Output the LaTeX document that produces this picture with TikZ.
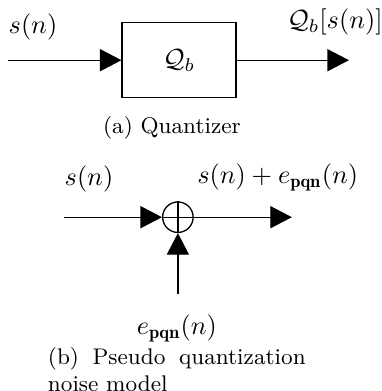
\documentclass[tikz,border=0pt]{standalone}
\usepackage{amsmath}
\usepackage{fontspec}
\usetikzlibrary{positioning,arrows.meta}
\tikzset{
  signal/.style={line width=0.5pt, draw=black},
  flow/.style={signal, -{Triangle[length=8.2pt,width=8.4pt]}},
  block/.style={draw=black, line width=0.5pt, minimum width=43.3pt,
    minimum height=28.5pt, inner sep=0pt},
  adder/.style={draw=black, line width=0.5pt, circle, minimum size=11.6pt,
    inner sep=0pt},
  sig/.style={inner sep=0pt},
  subcap/.style={inner sep=0pt, font=\fontsize{8.6}{10.3}\selectfont}
}

\begin{document}
\begin{tikzpicture}[node distance=40pt and 40pt]
  \useasboundingbox (-3.1pt,22.9pt) rectangle (141.8pt,-125.8pt);
  % (a) quantizer
  \coordinate[] (in);
  \node[block, right=43.1pt of in] (quant) {$\mathcal{Q}_b$};
  \coordinate[right=42.7pt of quant] (out);
  \node[sig, above right=7.3pt and 0pt of in] (inlbl) {$s(n)$};
  \node[sig, above=9.4pt of out, xshift=-5.3pt] (outlbl) {$\mathcal{Q}_b[s(n)]$};
  \draw[flow] (in) -- (quant);
  \draw[flow] (quant) -- (out);
  \node[subcap, below=6.6pt of quant, xshift=-2.7pt] (capa) {(a) Quantizer};
  % (b) pseudo quantization noise model
  \coordinate[below right=59.7pt and 21.3pt of in] (in2);
  \node[adder, right=37.2pt of in2] (sum) {};
  \coordinate[right=37.3pt of sum] (out2);
  \coordinate[below=23pt of sum] (noise);
  \draw[signal] (sum.north) -- (sum.south) (sum.west) -- (sum.east);
  \draw[flow] (in2) -- (sum);
  \draw[flow] (sum) -- (out2);
  \draw[flow] (noise) -- (sum);
  \node[sig, above right=9.3pt and 0pt of in2] (in2lbl) {$s(n)$};
  \node[sig, above=9.7pt of out2, xshift=-5.4pt] (out2lbl)
    {$s(n)+e_{\mathbf{pqn}}(n)$};
  \node[sig, below=7.8pt of noise, xshift=-0.4pt] (noiselbl)
    {$e_{\mathbf{pqn}}(n)$};
  \node[subcap, below=1.8pt of noiselbl, text width=98pt, align=justify] (capb)
    {(b) Pseudo quantization noise model};
\end{tikzpicture}
\end{document}
